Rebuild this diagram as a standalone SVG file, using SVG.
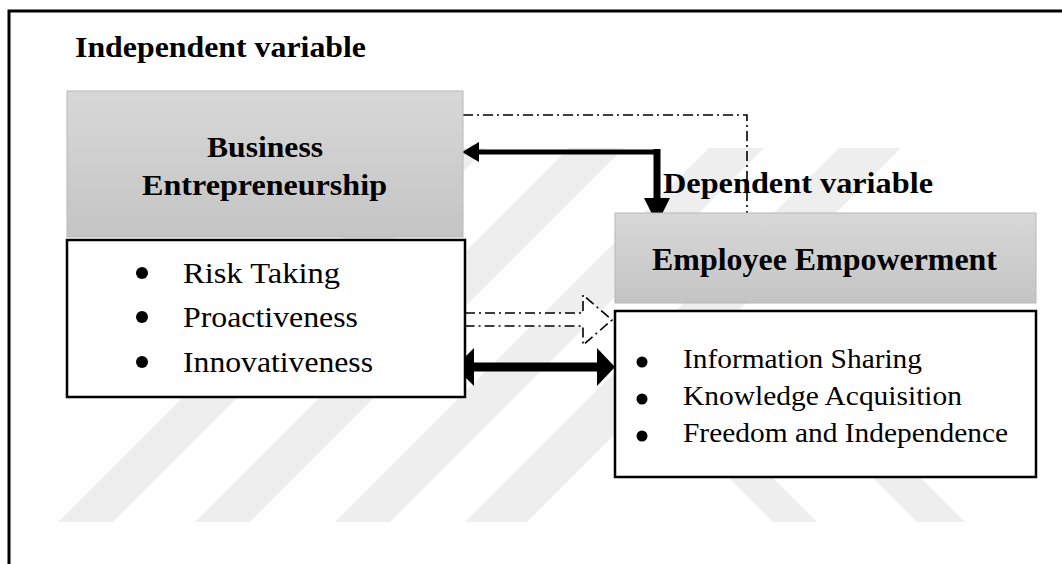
<svg xmlns="http://www.w3.org/2000/svg" width="1062" height="564" viewBox="0 0 1062 564">
  <defs>
    <linearGradient id="grayFill" x1="0" y1="0" x2="0" y2="1">
      <stop offset="0" stop-color="#d8d8d8"/>
      <stop offset="1" stop-color="#c4c4c4"/>
    </linearGradient>
    <style>
      .title { font-family: "Liberation Serif", "Times New Roman", serif; font-weight: bold; fill: #000; }
      .item { font-family: "Liberation Serif", "Times New Roman", serif; fill: #000; }
      .grayBox { fill: url(#grayFill); stroke: #b8b8b8; stroke-width: 1; }
      .listBox { fill: #fff; stroke: #000; stroke-width: 2.5; }
      .bullet { fill: #000; }
      .stripe { fill: #eeeeee; }
      .dashdot { fill: none; stroke: #000; stroke-width: 1.6; stroke-dasharray: 10 4 2 4; }
      .thick { fill: none; stroke: #000; }
      .head { fill: #000; }
    </style>
  </defs>

  <rect width="1062" height="564" fill="#fff"/>

  <!-- faint diagonal background stripes -->
  <g id="background-stripes">
    <polygon class="stripe" points="58,522 113,522 487,148 432,148"/>
    <polygon class="stripe" points="195,522 250,522 624,148 569,148"/>
    <polygon class="stripe" points="335,522 390,522 764,148 709,148"/>
    <polygon class="stripe" points="465,522 527,522 901,148 839,148"/>
    <polygon class="stripe" points="773,522 817,522 695,400 651,400"/>
    <polygon class="stripe" points="917,522 965,522 843,400 795,400"/>
  </g>

  <!-- outer frame -->
  <path d="M9,564 V11 H1062" fill="none" stroke="#000" stroke-width="3"/>

  <text class="title" x="75" y="57" font-size="29" textLength="291" lengthAdjust="spacingAndGlyphs">Independent variable</text>
  <text class="title" x="663" y="193" font-size="30" textLength="270" lengthAdjust="spacingAndGlyphs">Dependent variable</text>

  <g id="connectors">
    <!-- dash-dot link from the top of Business Entrepreneurship down to Employee Empowerment -->
    <polyline class="dashdot" points="463,115 747,115 747,214"/>
    <polygon class="head" points="740,213 754,213 747,226"/>

    <!-- thick elbow arrow, pointing both ways -->
    <line class="thick" x1="476" y1="152" x2="660" y2="152" stroke-width="5"/>
    <line class="thick" x1="657" y1="149" x2="657" y2="200" stroke-width="7"/>
    <polygon class="head" points="462,152 479,142 479,162"/>
    <polygon class="head" points="657,224 644,198 670,198"/>

    <!-- hollow dash-dot block arrow -->
    <polygon class="dashdot" style="fill:#fff" points="465,313 583,313 583,295 612,320 583,345 583,326 465,326"/>

    <!-- thick double-headed arrow -->
    <line class="thick" x1="470" y1="367" x2="600" y2="367" stroke-width="9"/>
    <polygon class="head" points="455,367 474,348 474,386"/>
    <polygon class="head" points="615,367 597,348 597,386"/>
  </g>

  <g id="business-entrepreneurship">
    <rect class="grayBox" x="67" y="91" width="396" height="146"/>
    <text class="title" x="207" y="157" font-size="29" textLength="116" lengthAdjust="spacingAndGlyphs">Business</text>
    <text class="title" x="142" y="195" font-size="29" textLength="245" lengthAdjust="spacingAndGlyphs">Entrepreneurship</text>
  </g>

  <g id="entrepreneurship-dimensions">
    <rect class="listBox" x="67" y="240" width="398" height="157"/>
    <circle class="bullet" cx="142" cy="273" r="6"/>
    <circle class="bullet" cx="142" cy="317" r="6"/>
    <circle class="bullet" cx="142" cy="362" r="6"/>
    <text class="item" x="183" y="283" font-size="30" textLength="157" lengthAdjust="spacingAndGlyphs">Risk Taking</text>
    <text class="item" x="183" y="327" font-size="30" textLength="175" lengthAdjust="spacingAndGlyphs">Proactiveness</text>
    <text class="item" x="183" y="372" font-size="30" textLength="190" lengthAdjust="spacingAndGlyphs">Innovativeness</text>
  </g>

  <g id="employee-empowerment">
    <rect class="grayBox" x="615" y="213" width="421" height="90"/>
    <text class="title" x="652" y="270" font-size="31" textLength="345" lengthAdjust="spacingAndGlyphs">Employee Empowerment</text>
  </g>

  <g id="empowerment-dimensions">
    <rect class="listBox" x="615" y="311" width="421" height="166"/>
    <circle class="bullet" cx="642" cy="362" r="5.5"/>
    <circle class="bullet" cx="642" cy="399" r="5.5"/>
    <circle class="bullet" cx="642" cy="436" r="5.5"/>
    <text class="item" x="683" y="368" font-size="27" textLength="239" lengthAdjust="spacingAndGlyphs">Information Sharing</text>
    <text class="item" x="683" y="405" font-size="27" textLength="279" lengthAdjust="spacingAndGlyphs">Knowledge Acquisition</text>
    <text class="item" x="683" y="442" font-size="27" textLength="325" lengthAdjust="spacingAndGlyphs">Freedom and Independence</text>
  </g>
</svg>
